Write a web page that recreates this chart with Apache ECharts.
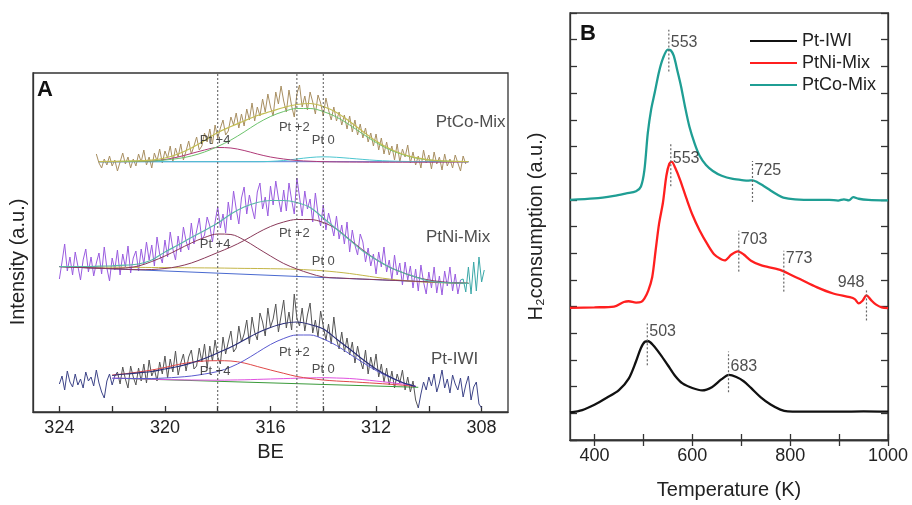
<!DOCTYPE html>
<html><head><meta charset="utf-8">
<script src="https://cdn.jsdelivr.net/npm/echarts@6/dist/echarts.min.js"></script>
<style>html,body{margin:0;padding:0;background:#fff}#c{width:912px;height:505px}</style>
</head><body><div id="c"></div>
<script>
// ---------------- Panel A : XPS Pt 4d (BE) ----------------
const beTicks = [308, 310, 312, 314, 316, 318, 320, 322, 324];
const beLabels = [308, 312, 316, 320, 324];
const peakBE = [318, 315, 314];            // Pt +4, Pt +2, Pt 0 reference lines
const compNames = ['Pt +4', 'Pt +2', 'Pt 0'];

// raw spectra (step 0.1 eV)
const coStart = 322.6;
const coData = [258,249,244,253,247, 256,246,252,241,250, 259,248,255,244,253, 246,258,250,262,247,
  255,244,259,251,263, 249,261,254,266,250, 264,255,268,252,261, 271,258,266,275,262,
  266,279,270,283,268, 287,274,284,292,277, 281,295,287,299,284, 298,286,303,292,309,
  291,305,296,313,300, 318,305,296,320,308, 326,311,300,322,306, 295,318,327,305,316,
  302,320,310,298,317, 309,296,314,302,292, 305,291,300,287,297, 283,296,280,292,277,
  288,274,284,270,279, 266,278,262,274,258, 270,257,266,252,268, 250,263,255,267,249,
  260,247,256,244,262, 249,257,243,260,248, 255,242,258,246,253, 244,257,249,241,256, 248];
const niStart = 324.0;
const niData = [133,150,168,141,155, 137,160,146,132,152, 163,140,155,136,149, 159,138,165,144,131,
  154,142,162,137,158, 145,166,139,154,161, 141,163,148,170,152, 167,146,175,158,149,
  172,155,180,163,152, 176,160,185,171,162, 189,168,181,194,172, 177,195,186,170,190,
  205,184,198,179,210, 192,221,203,188,214, 225,198,217,204,193, 220,229,203,215,196,
  226,207,231,214,200, 222,201,229,212,198, 234,215,196,221,203, 213,190,219,198,186,
  207,182,199,188,176, 196,173,187,168,190, 160,182,167,157,178, 170,150,164,146,158,
  138,160,145,165,140, 152,132,157,137,149, 127,150,132,146,124, 143,121,147,130,118,
  140,124,145,119,136, 117,141,126,145,121, 138,118,132];
const niTailStart = 308.8;
const niTail = [132,133,120,145,118,150,121,155,130,142];
const iwiLeftStart = 324.0;
const iwiLeft = [28,36,22,41,30, 25,38,27,33,24, 40,31,35,26,42, 29,20,14,31,38, 27,36,40];
const iwiMidStart = 321.8;
const iwiMid = [40,28,45,33,24, 46,35,27,44,31, 48,29,52,36,43, 31,50,38,56,34, 53,40,61,37,49,
  58,41,55,62,43, 46,64,50,68,44, 66,51,72,55,48, 75,58,70,81,60, 64,86,70,78,92,
  68,95,80,72,99, 90,76,104,85,93, 108,80,96,112,84, 100,82,118,94,86, 104,81,97,109,79,
  92,75,101,86,72, 88,68,95,73,63, 80,60,74,57,70, 49,66,52,43,62, 38,55,42,58,35,
  48,30,44,27,41, 24,38,29,42,22, 35,20,31,12,4];
const iwiRightStart = 310.4;
const iwiRight = [4,18,30,22,35, 26,38,20,29,42, 24,33,19,37,28, 22,34,15,27,36, 12,25,30,8,4];

// fitted components (step 0.5 eV)
const coFitStart = 322.5;
const coEnv = [250.5,250.6,251,251.3,251.8,254,258,264,271.5,279.5,285.5,291,296.5,300.5,304.5,307.5,308.5,305.5,299.5,290.5,280.5,271,263.5,258,254.3,252.2,251.2,250.7,250.5];
const coPt2 = [250.3,250.3,250.5,250.7,251,252,253.5,256,260,265.5,272,280,288.5,295.5,300.5,303.5,303.5,300.5,295,287,278,269.5,262.5,257.5,254,252,251,250.5,250.3];
const coPt4 = [250.3,250.3,250.4,250.5,251,252.5,255,258.5,262,264.5,264,261.5,258,255,253,251.5,250.8,250.3,250.1,250,249.9,249.8,249.8,249.8,249.8,249.8,249.9,250,250.1];
const coPt0 = [250.3,250.3,250.3,250.3,250.3,250.3,250.3,250.3,250.3,250.3,250.3,250.3,250.3,250.6,251.5,253,254.5,255.2,254.7,253.7,252.6,251.6,251,250.6,250.4,250.3,250.3,250.3,250.3];
const coBgBE = [322.5, 308.5];
const coBg = [250.3, 250.3];

const niFitStart = 324.0;
const niEnv = [145.5,145.5,145.5,145.8,146.2,146.8,148,152,160,167,174.5,181.5,189,198,205,209.5,211.5,211.5,209.5,204.5,194,183,172,161,152.5,145,139.5,135,131,129.5,129,128.7];
const niPt2 = [145.4,144.9,144.3,143.8,143.2,142.7,142.3,142.5,143.5,145.5,149,154,159.5,165,171.5,179,185.5,190,192.5,192.5,189.5,183,172.5,162,152.5,145,139.5,135,132,130.2,129.2,128.7];
const niPt4 = [145.4,144.9,144.3,143.8,143.5,144,146,150.5,156,162.5,169,174.5,178,177.5,172,164,156,148.5,143,138.5,135,134.1,133.5,132.9,132.4,131.8,131.3,130.7,130.2,129.6,129.1,128.7];
const niPt0 = [145.4,145.2,145.0,144.9,144.8,144.7,144.6,144.5,144.4,144.3,144.2,144.1,144,143.8,143.6,143.5,143.3,143.1,142.7,142,141.2,140,138.5,136.6,134.7,133,131.6,130.5,129.7,129.2,128.9,128.7];
const niBgBE = [324.0, 308.7];
const niBg = [145.4, 128.7];

const iwiFitStart = 322.0;
const iwiEnv = [36.5,38,39.2,40.5,43,45.5,49,53.5,59,65,72,79,84.5,88.5,90,87.5,83,73,63,52.5,43,35.5,29.5,25.5];
const iwiPt2 = [33.7,33.6,33.5,33.5,34,34.8,36,38,40.5,45,51.5,59.5,67.5,73.5,77,77,73,66.5,58,49.5,41.5,35,29.5,25.5];
const iwiPt4 = [37,38.3,40,42,44.5,47.5,49.7,51,51.3,51,49,45.5,42,38.7,35.5,33.5,32,31,30.3,29.5,28.7,27.8,26.8,25.5];
const iwiPt0 = [33.9,33.6,33.2,32.9,32.5,32.2,32,31.9,31.8,32,32.2,32.6,33,33.4,33.8,34.1,34.3,34,33.5,32.4,31,29.5,28,26];
const iwiBgBE = [321.8, 310.4];
const iwiBg = [33.7, 24.7];

// annotation anchors (data coordinates)
const compLabelBE = [318.1, 315.1, 314.0];
const compLabelY = { co: [272, 285, 272], ni: [168, 179, 151], iwi: [41, 60, 43] };
const sampleNames = ['PtCo-Mix', 'PtNi-Mix', 'Pt-IWI'];
const sampleLabelBE = [309.74, 310.11, 309.92];
const sampleLabelY = [290, 175, 53];

// ---------------- Panel B : H2-TPR ----------------
const tTicks = [400, 500, 600, 700, 800, 900, 1000];
const tLabels = [400, 600, 800, 1000];
const seriesB = ['Pt-IWI', 'PtNi-Mix', 'PtCo-Mix'];
const iwiT = [350,375,400,425,450,470,485,495,503,510,520,535,550,565,580,600,620,640,660,675,690,705,720,740,760,780,795,820,900,950,1000];
const iwiH = [1.03,1.12,1.32,1.58,1.87,2.3,2.95,3.45,3.68,3.7,3.55,3.2,2.8,2.4,2.12,1.95,1.86,1.98,2.28,2.44,2.36,2.2,1.95,1.6,1.33,1.14,1.07,1.06,1.06,1.07,1.06];
const niT = [350,400,440,460,470,485,495,502,510,518,525,532,540,547,553,558,565,575,588,600,615,632,645,658,666,680,693,705,720,740,770,787,800,820,854,888,922,932,940,948,956,965,975,987,1000];
const niH = [4.95,4.97,5.0,5.17,5.2,5.15,5.17,5.3,5.6,6.1,7.1,8.1,8.9,9.9,10.35,10.42,10.2,9.75,9.05,8.45,7.85,7.3,6.95,6.78,6.73,6.95,7.07,6.95,6.72,6.55,6.42,6.32,6.2,6.03,5.73,5.49,5.35,5.28,5.12,5.22,5.42,5.25,5.08,4.97,4.94];
const coT = [350,400,440,465,485,495,502,509,516,523,532,540,550,556,562,570,577,585,594,605,615,628,642,660,683,705,715,723,733,745,760,775,786,810,850,880,898,910,920,929,940,960,1000];
const coH = [9.0,9.05,9.15,9.24,9.32,9.5,10.1,11.5,12.4,13.0,13.8,14.3,14.63,14.6,14.4,13.8,13.25,12.5,11.75,11.1,10.65,10.3,10.08,9.9,9.78,9.73,9.72,9.73,9.66,9.53,9.35,9.18,9.08,9.02,9.0,9.0,8.97,9.02,8.98,9.1,9.04,9.0,8.98];

const peakText = ['553','553','725','703','773','948','503','683'];
const peakT    = [552, 556, 723, 695, 787, 956, 508, 674];
const peakLow  = [13.81, 9.51, 8.92, 6.31, 5.56, 4.48, 2.8, 1.79];
const peakHigh = [15.37, 11.08, 10.45, 7.84, 7.09, 5.67, 4.37, 3.32];
const peakLabelY = [14.89, 10.56, 10.11, 7.5, 6.79, 5.9, 4.07, 2.76];
const peakLabelSide = ['right','right','right','right','right','left','right','right'];

// ---------------- build ----------------
const FONT = '"Liberation Sans", Arial, "DejaVu Sans", sans-serif';
const AX = '#333';
function grid(start, step, vals) { return vals.map((v, i) => [+(start - i * step).toFixed(2), v]); }
function lineA(data, color, w, z, smooth) {
  return { type: 'line', xAxisIndex: 0, yAxisIndex: 0, data, symbol: 'none', smooth: smooth ? 0.35 : false,
    lineStyle: { color, width: w }, z, silent: true, animation: false };
}
function zip(xs, ys) { return xs.map((x, i) => [x, ys[i]]); }

const series = [];
series.push(lineA(grid(coStart, 0.1, coData), '#a88f62', 1, 2));
series.push(lineA(grid(niStart, 0.1, niData), '#9a5ce0', 1, 2));
series.push(lineA(grid(niTailStart, 0.1, niTail), '#3aa8a8', 1, 2));
series.push(lineA(grid(iwiLeftStart, 0.1, iwiLeft), '#3d4488', 1, 2));
series.push(lineA(grid(iwiMidStart, 0.1, iwiMid), '#555555', 1, 2));
series.push(lineA(grid(iwiRightStart, 0.1, iwiRight), '#3d4488', 1, 2));
series.push(lineA(zip(coBgBE, coBg), '#5a78d8', 1, 3));
series.push(lineA(grid(coFitStart, 0.5, coPt0), '#4cc6d0', 1, 3, true));
series.push(lineA(grid(coFitStart, 0.5, coPt4), '#b03a78', 1, 3, true));
series.push(lineA(grid(coFitStart, 0.5, coPt2), '#6cc36c', 1, 3, true));
series.push(lineA(grid(coFitStart, 0.5, coEnv), '#c2bd52', 1.2, 3, true));
series.push(lineA(zip(niBgBE, niBg), '#4a6ad0', 1, 3));
series.push(lineA(grid(niFitStart, 0.5, niPt0), '#c4b648', 1, 3, true));
series.push(lineA(grid(niFitStart, 0.5, niPt4), '#8a3a5a', 1, 3, true));
series.push(lineA(grid(niFitStart, 0.5, niPt2), '#8a3a5a', 1, 3, true));
series.push(lineA(grid(niFitStart, 0.5, niEnv), '#58b8a8', 1.2, 3, true));
series.push(lineA(zip(iwiBgBE, iwiBg), '#3a9a3a', 1, 3));
series.push(lineA(grid(iwiFitStart, 0.5, iwiPt0), '#e050e0', 1, 3, true));
series.push(lineA(grid(iwiFitStart, 0.5, iwiPt4), '#e04848', 1, 3, true));
series.push(lineA(grid(iwiFitStart, 0.5, iwiPt2), '#5a5ad0', 1, 3, true));
series.push(lineA(grid(iwiFitStart, 0.5, iwiEnv), '#2a2e78', 1.2, 3, true));
peakBE.forEach(b => {
  series.push({ type: 'line', xAxisIndex: 0, yAxisIndex: 0, data: [[b, 0], [b, 339]], symbol: 'none',
    lineStyle: { color: '#555', width: 1, type: [2, 2] }, z: 4, silent: true, animation: false });
});
const compLabelData = [];
['co', 'ni', 'iwi'].forEach(k => compLabelBE.forEach((b, i) => compLabelData.push({ value: [b, compLabelY[k][i]], name: compNames[i] })));
series.push({ type: 'scatter', xAxisIndex: 0, yAxisIndex: 0, data: compLabelData, symbolSize: 0, z: 6, silent: true,
  label: { show: true, position: 'inside', formatter: p => p.name, color: '#222', fontSize: 13, fontFamily: FONT } });
series.push({ type: 'scatter', xAxisIndex: 0, yAxisIndex: 0,
  data: sampleNames.map((n, i) => ({ value: [sampleLabelBE[i], sampleLabelY[i]], name: n })), symbolSize: 0, z: 6, silent: true,
  label: { show: true, position: 'right', distance: 0, formatter: p => p.name, color: '#222', fontSize: 17, fontFamily: FONT } });

const colorsB = ['#111111', '#ff1f1f', '#1f9e94'];
[[iwiT, iwiH], [niT, niH], [coT, coH]].forEach((d, i) => {
  series.push({ type: 'line', name: seriesB[i], xAxisIndex: 1, yAxisIndex: 1, data: zip(d[0], d[1]), symbol: 'none',
    smooth: 0.3, lineStyle: { color: colorsB[i], width: 2.3 }, itemStyle: { color: colorsB[i] }, z: 3, animation: false });
});
peakT.forEach((t, i) => {
  series.push({ type: 'line', xAxisIndex: 1, yAxisIndex: 1, data: [[t, peakLow[i]], [t, peakHigh[i]]], symbol: 'none',
    lineStyle: { color: '#666', width: 1.2, type: [2, 2] }, z: 4, silent: true, animation: false });
  series.push({ type: 'scatter', xAxisIndex: 1, yAxisIndex: 1, data: [{ value: [t, peakLabelY[i]], name: peakText[i] }],
    symbolSize: 0, z: 6, silent: true,
    label: { show: true, position: peakLabelSide[i], distance: 2, formatter: p => p.name, color: '#222', fontSize: 16, fontFamily: FONT } });
});

const chart = echarts.init(document.getElementById('c'), null, { renderer: 'canvas' });
chart.setOption({
  animation: false,
  backgroundColor: '#fff',
  textStyle: { fontFamily: FONT },
  grid: [
    { left: 33, top: 73, width: 475, height: 339, show: true, borderColor: AX, borderWidth: 1.3, backgroundColor: 'transparent' },
    { left: 570, top: 13, width: 318, height: 429, show: true, borderColor: AX, borderWidth: 1.3, backgroundColor: 'transparent' }
  ],
  xAxis: [
    { gridIndex: 0, type: 'value', inverse: true, min: 307, max: 325,
      axisLine: { lineStyle: { color: AX, width: 1.3 } },
      axisTick: { inside: true, length: 6, customValues: beTicks, lineStyle: { color: AX, width: 1.3 } },
      axisLabel: { customValues: beLabels, fontSize: 18, color: '#222', margin: 7, fontFamily: FONT, formatter: v => String(v) },
      splitLine: { show: false },
      name: 'BE', nameLocation: 'middle', nameGap: 30, nameTextStyle: { fontSize: 20, color: '#222', fontFamily: FONT } },
    { gridIndex: 1, type: 'value', min: 350, max: 1000,
      axisLine: { lineStyle: { color: AX, width: 1.3 } },
      axisTick: { inside: true, length: 6, customValues: tTicks, lineStyle: { color: AX, width: 1.3 } },
      axisLabel: { customValues: tLabels, fontSize: 18, color: '#222', margin: 7, fontFamily: FONT, formatter: v => String(v) },
      splitLine: { show: false },
      name: 'Temperature (K)', nameLocation: 'middle', nameGap: 40, nameTextStyle: { fontSize: 20, color: '#222', fontFamily: FONT } },
    { gridIndex: 1, type: 'value', position: 'top', min: 350, max: 1000,
      axisLine: { lineStyle: { color: AX, width: 1.3 } },
      axisTick: { inside: true, length: 6, customValues: tTicks, lineStyle: { color: AX, width: 1.3 } },
      axisLabel: { show: false }, splitLine: { show: false } }
  ],
  yAxis: [
    { gridIndex: 0, type: 'value', min: 0, max: 339,
      axisLine: { show: true, lineStyle: { color: AX, width: 1.3 } }, axisTick: { show: false }, axisLabel: { show: false },
      splitLine: { show: false } },
    { gridIndex: 1, type: 'value', min: 0, max: 16, interval: 1,
      axisLine: { show: true, lineStyle: { color: AX, width: 1.3 } },
      axisTick: { inside: true, length: 7, lineStyle: { color: AX, width: 1.3 } }, axisLabel: { show: false },
      splitLine: { show: false },
      name: 'H\u2082consumption (a.u.)', nameLocation: 'middle', nameGap: 24, nameTextStyle: { fontSize: 20, color: '#222', fontFamily: FONT } },
    { gridIndex: 1, type: 'value', position: 'right', min: 0, max: 16, interval: 1,
      axisLine: { show: true, lineStyle: { color: AX, width: 1.3 } },
      axisTick: { inside: true, length: 7, lineStyle: { color: AX, width: 1.3 } }, axisLabel: { show: false },
      splitLine: { show: false } }
  ],
  legend: { data: seriesB, orient: 'vertical', left: 745, top: 27, icon: 'rect', itemWidth: 47, itemHeight: 2, itemGap: 4,
    textStyle: { fontSize: 18, color: '#222', fontFamily: FONT } },
  graphic: [
    { type: 'text', left: 37, top: 79, style: { text: 'A', font: 'bold 22px ' + FONT, fill: '#111' } },
    { type: 'text', left: 580, top: 23, style: { text: 'B', font: 'bold 22px ' + FONT, fill: '#111' } },
    { type: 'text', x: 18, y: 262, rotation: Math.PI / 2,
      style: { text: 'Intensity (a.u.)', font: '20px ' + FONT, fill: '#222', align: 'center', verticalAlign: 'middle' } }
  ],
  series
});
</script></body></html>
